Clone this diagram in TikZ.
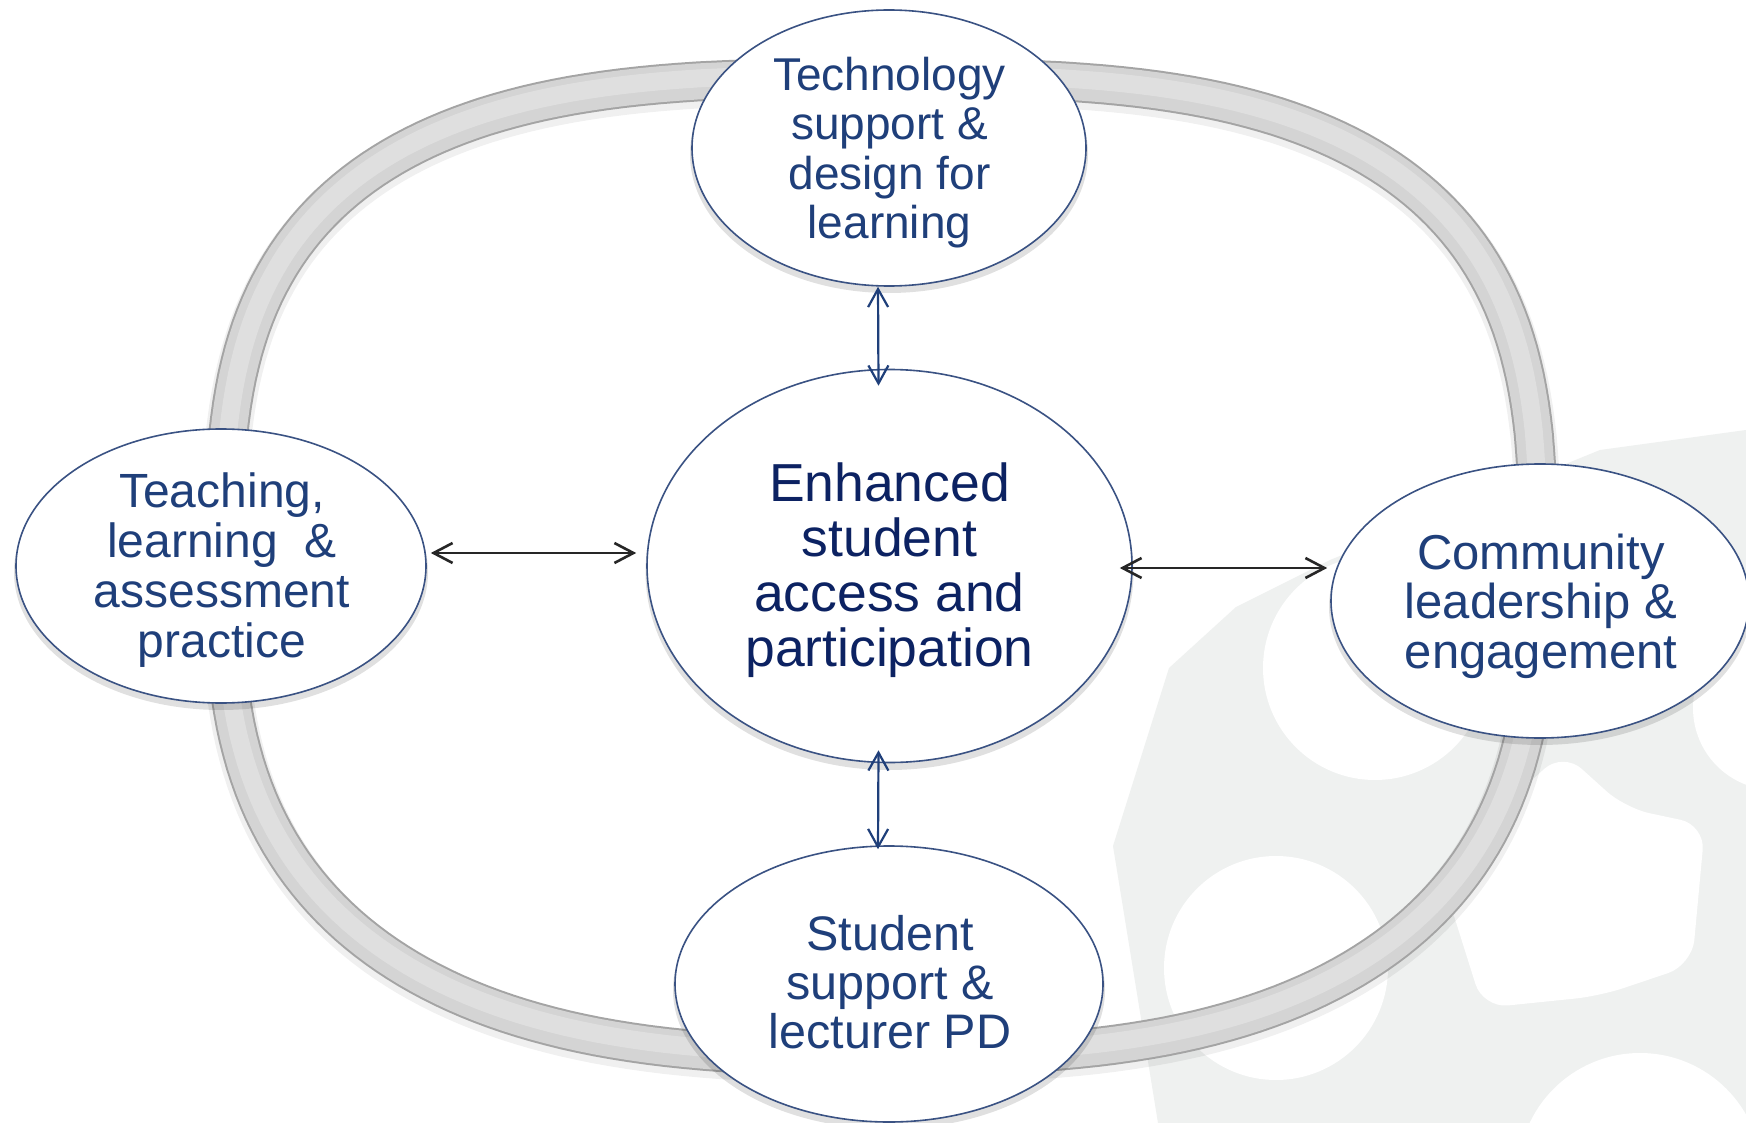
\documentclass[tikz,border=0pt]{standalone}
\usepackage{fontspec}
\setmainfont{Liberation Sans}
\usetikzlibrary{shapes.geometric,arrows.meta}
\definecolor{txtblue}{HTML}{1F3F7A}
\definecolor{ctrblue}{HTML}{0C2262}
\definecolor{edgeblue}{HTML}{3A5283}
\definecolor{wm}{HTML}{EFF1F0}
\definecolor{ringmid}{HTML}{D4D4D4}
\definecolor{ringedge}{HTML}{A4A4A4}
\definecolor{ringhi}{HTML}{DFDFDF}
\definecolor{arrblue}{HTML}{1F3F7A}
\tikzset{
  bubble/.style={ellipse, draw=edgeblue, line width=1.6pt, fill=white, inner sep=0pt},
  lbl/.style={align=center, text=txtblue, inner sep=0pt},
  bshadow/.style={fill=black, opacity=0.12},
  harrow/.style={draw=black!85, line width=2.6pt, {Straight Barb[length=19pt,width=20pt]}-{Straight Barb[length=19pt,width=20pt]}},
  varrow/.style={draw=arrblue, line width=2.2pt, {Straight Barb[length=18pt,width=20pt]}-{Straight Barb[length=18pt,width=20pt]}},
  ringshape/.style={insert path={
    (1538,567) plot[domain=0.5:179.5, samples=120, variable=\t]
      ({881+657*(cos(\t)<0?-1:1)*abs(cos(\t))^0.7407}, {567+489*abs(sin(\t))^0.7407})
    -- plot[domain=180.5:359.5, samples=120, variable=\t]
      ({881+657*(cos(\t)<0?-1:1)*abs(cos(\t))^0.6667}, {567-489*abs(sin(\t))^0.6667})
    -- cycle}}
}
\begin{document}
\begin{tikzpicture}[x=1pt,y=-1pt]
\useasboundingbox (0,0) rectangle (1746,1123);
\fill[white] (0,0) rectangle (1746,1123);
% watermark
\begin{scope}
\clip (0,0) rectangle (1746,1123);
\fill[wm] (1158,1123) -- (1113,846) -- (1169,668) -- (1236,607) -- (1330,560) -- (1600,450) -- (1746,430) -- (1746,1123) -- cycle;
\fill[white] (1375,668) circle (112pt);
\fill[white] (1276,968) circle (112pt);
\fill[white, rounded corners=25pt] (1563,752) -- (1625,808) -- (1705,825) -- (1692,965) -- (1600,996) -- (1483,1008) -- (1438,865) -- cycle;
\fill[white] (1640,1175) circle (122pt);
\fill[white] (1775,708) circle (82pt);
\end{scope}
% ring
\draw[line width=46pt, black, opacity=0.06, yshift=-4pt] [ringshape];
\draw[line width=40pt, ringedge] [ringshape];
\draw[line width=36pt, ringmid] [ringshape];
\draw[line width=18pt, ringhi, yshift=3pt] [ringshape];
% centres
\coordinate (cT) at (889,148);
\coordinate (cC) at (889.5,566);
\coordinate (cL) at (221,566);
\coordinate (cR) at (1540,601);
\coordinate (cB) at (889,984);
% shadows
\fill[bshadow] ([yshift=-6pt]cT) ellipse [x radius=199pt, y radius=139pt];
\fill[bshadow] ([yshift=-6pt]cC) ellipse [x radius=244pt, y radius=198pt];
\fill[bshadow] ([yshift=-6pt]cL) ellipse [x radius=207pt, y radius=138pt];
\fill[bshadow] ([yshift=-6pt]cR) ellipse [x radius=211pt, y radius=138pt];
\fill[bshadow] ([yshift=-6pt]cB) ellipse [x radius=216pt, y radius=139pt];
% bubbles
\node[bubble, minimum width=394pt, minimum height=276pt] (T) at (cT) {};
\node[bubble, minimum width=485pt, minimum height=393pt] (C) at (cC) {};
\node[bubble, minimum width=410pt, minimum height=274pt] (L) at (cL) {};
\node[bubble, minimum width=418pt, minimum height=274pt] (R) at (cR) {};
\node[bubble, minimum width=428pt, minimum height=276pt] (B) at (cB) {};
% labels
\node[lbl, font=\fontsize{46}{49.5}\selectfont] (Tt) at (889.5,152.6) {Technology\\support \&\\design for\\learning};
\node[lbl, font=\fontsize{48}{50}\selectfont] (Lt) at (222,570.5) {Teaching,\\learning~~\&\\assessment\\practice};
\node[lbl, text=ctrblue, font=\fontsize{53.5}{55}\selectfont] (Ct) at (889.5,570.5) {Enhanced\\student\\access and\\participation};
\node[lbl, font=\fontsize{49}{49.5}\selectfont] (Rt) at (1541,606) {Community\\leadership \&\\engagement};
\node[lbl, font=\fontsize{48.5}{49}\selectfont] (Bt) at (890,982.5) {Student\\support \&\\lecturer PD};
% connectors
\draw[harrow] ([xshift=4pt,yshift=13pt]L.east) -- ([xshift=-10pt,yshift=13pt]C.west);
\draw[harrow] ([xshift=-13pt,yshift=-2pt]C.east) -- ([xshift=-3pt,yshift=33pt]R.west);
\draw[varrow] ([xshift=-11pt]T.south) -- ([xshift=-11pt,yshift=-17pt]C.north);
\draw[varrow] ([xshift=-11pt,yshift=13pt]C.south) -- ([xshift=-11pt,yshift=-4pt]B.north);
\end{tikzpicture}
\end{document}
